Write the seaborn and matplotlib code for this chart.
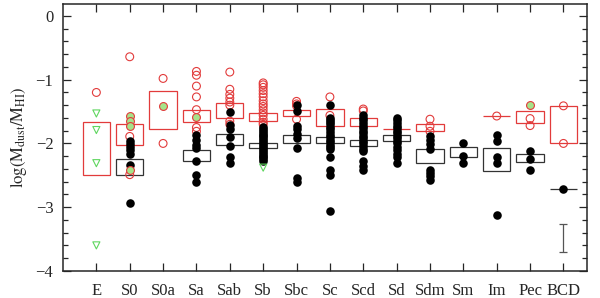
import numpy as np
import pandas as pd
import seaborn as sns
import matplotlib.pyplot as plt
from matplotlib.ticker import MultipleLocator

types = ['E', 'S0', 'S0a', 'Sa', 'Sab', 'Sb', 'Sbc', 'Sc', 'Scd', 'Sd',
         'Sdm', 'Sm', 'Im', 'Pec', 'BCD']

# boxes (low, high) per type, nan = no box
red_lo = [-2.49, -2.02, -1.77, -1.67, -1.60, -1.65, -1.57, -1.73, -1.73, -1.78,
          -1.80, np.nan, -1.57, -1.68, -2.00]
red_hi = [-1.66, -1.69, -1.17, -1.47, -1.37, -1.52, -1.47, -1.46, -1.60, -1.78,
          -1.69, np.nan, -1.57, -1.49, -1.42]
blk_lo = [np.nan, -2.50, np.nan, -2.27, -2.03, -2.07, -1.99, -2.00, -2.04, -1.96,
          -2.30, -2.21, -2.44, -2.29, -2.71]
blk_hi = [np.nan, -2.24, np.nan, -2.10, -1.85, -2.00, -1.87, -1.90, -1.94, -1.87,
          -2.08, -2.05, -2.07, -2.16, -2.71]

black_pts = {
    'S0': [-1.96, -2.01, -2.06, -2.11, -2.17, -2.34, -2.93],
    'Sa': [-1.86, -1.94, -2.03, -2.07, -2.28, -2.50, -2.61],
    'Sab': [-1.50, -1.71, -1.77, -1.90, -2.04, -2.22, -2.30],
    'Sb': [-1.74, -1.77, -1.80, -1.83, -1.86, -1.89, -1.92, -1.95, -1.98, -2.01,
           -2.04, -2.07, -2.10, -2.13, -2.16, -2.19, -2.22, -2.25, -2.28],
    'Sbc': [-1.40, -1.49, -1.72, -1.78, -1.85, -1.91, -2.07, -2.55, -2.61],
    'Sc': [-1.40, -1.60, -1.63, -1.66, -1.70, -1.74, -1.78, -1.82, -1.86, -1.90,
           -1.94, -1.98, -2.02, -2.06, -2.09, -2.22, -2.41, -2.49, -3.06],
    'Scd': [-1.56, -1.60, -1.64, -1.68, -1.72, -1.76, -1.80, -1.84, -1.88, -1.92,
            -1.96, -2.00, -2.04, -2.08, -2.12, -2.28, -2.36, -2.42],
    'Sd': [-1.60, -1.64, -1.68, -1.72, -1.76, -1.80, -1.84, -1.88, -1.92, -1.96,
           -2.00, -2.05, -2.10, -2.16, -2.22, -2.30],
    'Sdm': [-1.89, -1.94, -2.01, -2.08, -2.41, -2.46, -2.51, -2.58],
    'Sm': [-1.99, -2.19, -2.30],
    'Im': [-1.86, -1.96, -2.22, -2.31, -3.13],
    'Pec': [-2.12, -2.25, -2.41],
    'BCD': [-2.71],
}
red_pts = {
    'E': [-1.20],
    'S0': [-0.64, -1.89, -2.49],
    'S0a': [-0.98, -2.00],
    'Sa': [-0.87, -0.93, -1.10, -1.27, -1.47, -1.75, -1.81],
    'Sab': [-0.88, -1.15, -1.23, -1.29, -1.35, -1.40, -1.65, -1.70],
    'Sb': [-1.05, -1.08, -1.12, -1.17, -1.22, -1.27, -1.33, -1.38, -1.42, -1.47,
           -1.52, -1.56, -1.62, -1.67, -1.70],
    'Sbc': [-1.34, -1.38, -1.41, -1.62],
    'Sc': [-1.27, -1.56],
    'Scd': [-1.46, -1.49],
    'Sdm': [-1.62, -1.73, -1.81],
    'Im': [-1.57],
    'Pec': [-1.61, -1.72],
    'BCD': [-1.41, -2.00],
}
red_green_pts = {
    'S0': [-1.57, -1.65, -1.73, -2.42],
    'S0a': [-1.41],
    'Sa': [-1.58],
    'Pec': [-1.40],
}
green_tri = {
    'E': [-1.53, -1.79, -2.31, -3.60],
    'Sb': [-2.38],
}
err_mid = -3.485
err_half = 0.215

RED = '#e23b3b'
GREEN = '#5fd65f'


def to_long(d):
    rows = [(t, v) for t, vals in d.items() for v in vals]
    df = pd.DataFrame(rows, columns=['type', 'val'])
    df['pos'] = df['type'].map({t: i for i, t in enumerate(types)})
    return df


sns.set_style('ticks')
plt.rcParams['font.family'] = ['Liberation Serif', 'DejaVu Serif']
plt.rcParams['mathtext.fontset'] = 'stix'

fig, ax = plt.subplots(figsize=(6, 2.98), dpi=100)
fig.subplots_adjust(left=0.105, right=0.978, bottom=0.091, top=0.987)

pos = np.arange(len(types))
ax.bar(pos, np.array(red_hi) - np.array(red_lo), bottom=red_lo, width=0.82,
       fill=False, edgecolor=RED, linewidth=0.9, zorder=1)
ax.bar(pos, np.array(blk_hi) - np.array(blk_lo), bottom=blk_lo, width=0.82,
       fill=False, edgecolor='#333333', linewidth=0.9, zorder=1)

sns.scatterplot(data=to_long(red_pts), x='pos', y='val', marker='o', s=32,
                facecolors='none', edgecolor=RED, linewidth=0.8, ax=ax,
                legend=False, zorder=2)
sns.scatterplot(data=to_long(black_pts), x='pos', y='val', marker='o', s=38,
                color='black', edgecolor='black', linewidth=0, ax=ax,
                legend=False, zorder=3)
sns.scatterplot(data=to_long(red_green_pts), x='pos', y='val', marker='o', s=32,
                color='#a6e38a', edgecolor=RED, linewidth=0.8, ax=ax,
                legend=False, zorder=4)
sns.scatterplot(data=to_long(green_tri), x='pos', y='val', marker='v', s=26,
                facecolors='none', edgecolor=GREEN, linewidth=0.8, ax=ax,
                legend=False, zorder=4)

ax.errorbar([pos[-1]], [err_mid], yerr=[err_half], color='#555555',
            capsize=3, linewidth=0.9, capthick=0.9)

ax.set_xlim(-1, 14.70)
ax.set_ylim(-4, 0.19)
ax.set_xticks(pos, types)
ax.set_yticks([0, -1, -2, -3, -4])
ax.yaxis.set_minor_locator(MultipleLocator(0.2))
ax.tick_params(which='both', direction='in', top=True, right=True,
               labelsize=12, width=0.9)
ax.tick_params(axis='x', which='major', length=6, pad=9)
ax.tick_params(axis='y', which='major', length=6, pad=7)
ax.tick_params(axis='y', which='minor', length=3.5)
for s in ax.spines.values():
    s.set_linewidth(1.1)

ax.set_xlabel('')
ax.set_ylabel(r'$\mathrm{log(M_{dust}/M_{HI})}$', fontsize=12, labelpad=5)

fig.savefig('out.png', dpi=100)
